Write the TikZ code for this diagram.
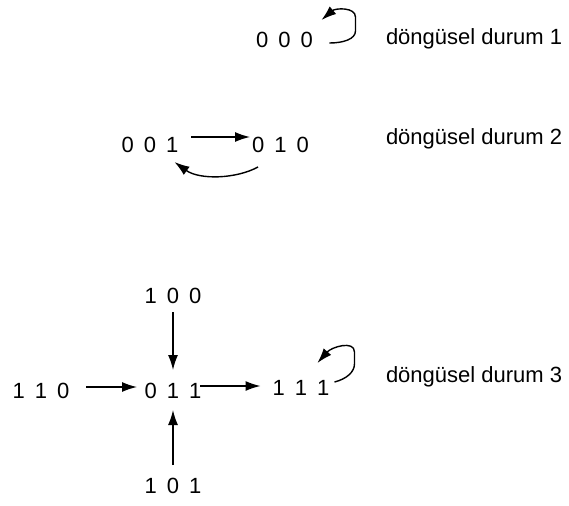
\documentclass[tikz,border=0pt]{standalone}
\usepackage{fontspec}
\setmainfont{Liberation Sans}
\usetikzlibrary{arrows.meta}
\newcommand\bitsx[3]{#1\hspace{0.46em}#2\hspace{0.46em}#3}
\begin{document}
\begin{tikzpicture}[x=1pt,y=-1pt,
  state/.style={inner sep=0pt,outer sep=0pt,anchor=base,font=\fontsize{22}{26}\selectfont},
  lbl/.style={inner sep=0pt,outer sep=0pt,anchor=base west,font=\fontsize{22}{26}\selectfont},
  arr/.style={line width=1.4pt,-{Latex[length=15pt,width=10pt]}}]
\useasboundingbox (0,0) rectangle (569,505);
% cycle 1
\node[state] (s000) at (284.5,48) {\bitsx000};
\node[lbl] (l1) at (386,45) {döngüsel durum 1};
\draw[arr] ([shift={(16.5,-5)}]s000.base east) .. controls +(14,0) and +(0,8) .. ++(26,-12)
   -- ++(0,-14) .. controls +(0,-10) and +(14,-12) .. ([shift={(8.5,-28)}]s000.base east);
% cycle 2
\node[state] (s001) at (150,153) {\bitsx001};
\node[state] (s010) at (280.5,153) {\bitsx010};
\node[lbl] (l2) at (386,144) {döngüsel durum 2};
\draw[arr] ([shift={(13,-16)}]s001.base east) -- ([shift={(-2,-16)}]s010.base west);
\draw[arr] ([shift={(6,14)}]s010.base west) .. controls +(-22,12) and +(25,18) .. ([shift={(-4,9)}]s001.base east);
% cycle 3
\node[state] (s100) at (173,303) {\bitsx100};
\node[state] (s110) at (41,398) {\bitsx110};
\node[state] (s011) at (173,398) {\bitsx011};
\node[state] (s111) at (301,395) {\bitsx111};
\node[state] (s101) at (173,493) {\bitsx101};
\node[lbl] (l3) at (386,382) {döngüsel durum 3};
\draw[arr] ([shift={(0,9)}]s100.base) -- ([shift={(0,-28)}]s011.base);
\draw[arr] ([shift={(0,-28)}]s101.base) -- ([shift={(0,12)}]s011.base);
\draw[arr] ([shift={(17,-11)}]s110.base east) -- ([shift={(-7.5,-11)}]s011.base west);
\draw[arr] ([shift={(-1,-12)}]s011.base east) -- ([shift={(-12,-9)}]s111.base west);
\draw[arr] ([shift={(5,-13)}]s111.base east) .. controls +(12,-3) and +(0,8) .. ++(20,-18)
   -- ++(0,-12) .. controls +(0,-12) and +(14,-16) .. ([shift={(-12,-32)}]s111.base east);
\end{tikzpicture}
\end{document}
